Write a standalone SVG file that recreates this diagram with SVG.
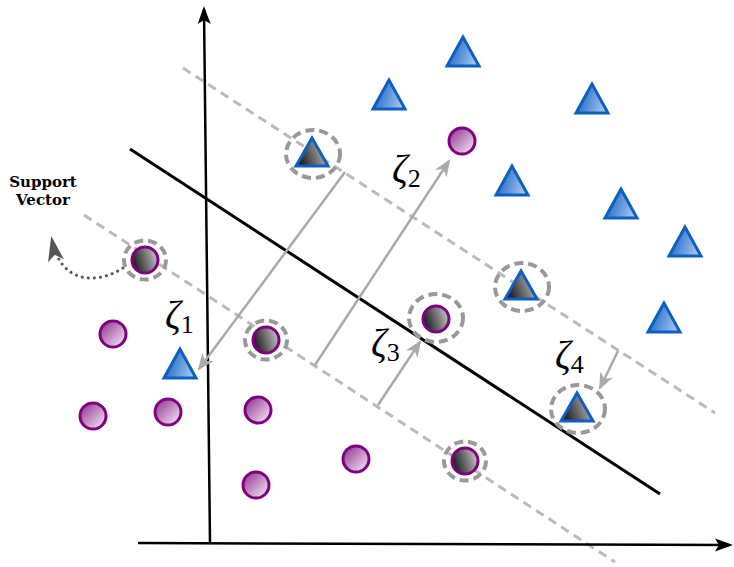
<svg xmlns="http://www.w3.org/2000/svg" width="734" height="567" viewBox="0 0 734 567">
<defs>
<linearGradient id="pg" x1="0" y1="0" x2="1" y2="1"><stop offset="0" stop-color="#8a2a8a"/><stop offset="1" stop-color="#fdf2fd"/></linearGradient>
<linearGradient id="bg" x1="0" y1="0.3" x2="1" y2="0.6"><stop offset="0" stop-color="#1060c4"/><stop offset="1" stop-color="#a8c8f0"/></linearGradient>
<linearGradient id="dg" x1="0" y1="0.6" x2="1" y2="0.3"><stop offset="0" stop-color="#151515"/><stop offset="1" stop-color="#c8c8c8"/></linearGradient>
<marker id="ab" markerUnits="userSpaceOnUse" markerWidth="30" markerHeight="30" viewBox="-20 -10 30 20" refX="0" refY="0" orient="auto" overflow="visible"><path d="M4,0 L-14,-6.5 L-10,0 L-14,6.5 Z" fill="#000"/></marker>
<marker id="ag" markerUnits="userSpaceOnUse" markerWidth="30" markerHeight="30" viewBox="-20 -10 30 20" refX="0" refY="0" orient="auto" overflow="visible"><path d="M2,0 L-15,-7 L-10,0 L-15,7 Z" fill="#aaaaaa"/></marker>
<marker id="ad" markerUnits="userSpaceOnUse" markerWidth="30" markerHeight="30" viewBox="-20 -10 30 20" refX="0" refY="0" orient="auto" overflow="visible"><path d="M4,0 L-21,-8 L-15,0 L-21,8 Z" fill="#555"/></marker>
</defs>
<style>
.axis{stroke:#000;stroke-width:2.5;fill:none}
.dec{stroke:#000;stroke-width:3;fill:none}
.margin{stroke:#bbbbbb;stroke-width:3;stroke-dasharray:9 6;fill:none}
.zeta{stroke:#aaaaaa;stroke-width:2.5;fill:none}
.ring{fill:none;stroke:#999;stroke-width:4;stroke-dasharray:9 5}
.pc{fill:url(#pg);stroke:#800080;stroke-width:3}
.sc{fill:url(#dg);stroke:#800080;stroke-width:3}
.bt{fill:url(#bg);stroke:#0f5fc2;stroke-width:3;stroke-linejoin:miter}
.st{fill:url(#dg);stroke:#0f5fc2;stroke-width:3}
.z{font-family:"Liberation Serif","DejaVu Serif",serif;font-style:italic;font-size:39px;fill:#000}
.zs{font-family:"Liberation Serif","DejaVu Serif",serif;font-style:normal;font-size:26px;fill:#000}
.sv{font-family:"DejaVu Serif",serif;font-weight:bold;font-size:15px;fill:#000;text-anchor:middle}
</style>
<g id="connectors">
<line class="margin" x1="183" y1="68" x2="715" y2="413"/>
<line class="margin" x1="84" y1="215" x2="615" y2="562"/>
<line class="dec" x1="130" y1="149" x2="660" y2="494"/>
<line class="axis" x1="210" y1="543" x2="204" y2="10" marker-end="url(#ab)"/>
<line class="axis" x1="138" y1="543" x2="729" y2="545" marker-end="url(#ab)"/>
<line class="zeta" x1="345" y1="172" x2="199" y2="369" marker-end="url(#ag)"/>
<line class="zeta" x1="315" y1="365" x2="449" y2="161" marker-end="url(#ag)"/>
<line class="zeta" x1="378" y1="405" x2="420" y2="342" marker-end="url(#ag)"/>
<line class="zeta" x1="618" y1="351" x2="600" y2="388" marker-end="url(#ag)"/>
<path d="M123,268 C95,286 60,282 52,240" fill="none" stroke="#555" stroke-width="3" stroke-dasharray="0.1 6" stroke-linecap="round" marker-end="url(#ad)"/>
</g>
<g id="circles">
<circle id="c1" class="pc" cx="462" cy="141" r="13"/>
<circle id="c2" class="pc" cx="113" cy="334" r="13"/>
<circle id="c3" class="pc" cx="93" cy="416" r="13"/>
<circle id="c4" class="pc" cx="168" cy="412" r="13"/>
<circle id="c5" class="pc" cx="258" cy="410" r="13"/>
<circle id="c6" class="pc" cx="356" cy="459" r="13"/>
<circle id="c7" class="pc" cx="256" cy="485" r="13"/>
</g>
<g id="sv-circles">
<g id="sc1"><circle class="sc" cx="145" cy="260" r="13"/><ellipse class="ring" cx="145" cy="260" rx="21" ry="19.5"/></g>
<g id="sc2"><circle class="sc" cx="266" cy="340" r="13"/><ellipse class="ring" cx="266" cy="340" rx="21" ry="19.5"/></g>
<g id="sc3"><circle class="sc" cx="436" cy="319" r="13"/><ellipse class="ring" cx="436" cy="318" rx="27" ry="24"/></g>
<g id="sc4"><circle class="sc" cx="465" cy="461" r="13"/><ellipse class="ring" cx="465" cy="461" rx="21" ry="19.5"/></g>
</g>
<g id="triangles">
<path id="t1" class="bt" d="M463,37 L447,66 L479,66 Z"/>
<path id="t2" class="bt" d="M389,80 L373,109 L405,109 Z"/>
<path id="t3" class="bt" d="M592,84 L576,113 L608,113 Z"/>
<path id="t4" class="bt" d="M512,166 L496,195 L528,195 Z"/>
<path id="t5" class="bt" d="M621,189 L605,218 L637,218 Z"/>
<path id="t6" class="bt" d="M685,227 L669,256 L701,256 Z"/>
<path id="t7" class="bt" d="M664,303 L648,332 L680,332 Z"/>
<path id="t8" class="bt" d="M180,349 L164,378 L196,378 Z"/>
</g>
<g id="sv-triangles">
<g id="st1"><path class="st" d="M312,138 L296,166 L328,166 Z"/><ellipse class="ring" cx="313" cy="154" rx="27" ry="24"/></g>
<g id="st2"><path class="st" d="M521,271 L505,299 L537,299 Z"/><ellipse class="ring" cx="522" cy="287" rx="27" ry="24"/></g>
<g id="st3"><path class="st" d="M577,393 L561,421 L593,421 Z"/><ellipse class="ring" cx="578" cy="409" rx="27" ry="24"/></g>
</g>
<g id="labels">
<text class="z" x="165" y="328">ζ<tspan class="zs" dy="5">1</tspan></text>
<text class="z" x="392" y="182">ζ<tspan class="zs" dy="5">2</tspan></text>
<text class="z" x="371" y="356">ζ<tspan class="zs" dy="5">3</tspan></text>
<text class="z" x="555" y="368">ζ<tspan class="zs" dy="5">4</tspan></text>
<text class="sv" x="43" y="187">Support</text>
<text class="sv" x="43" y="205">Vector</text>
</g>
</svg>
